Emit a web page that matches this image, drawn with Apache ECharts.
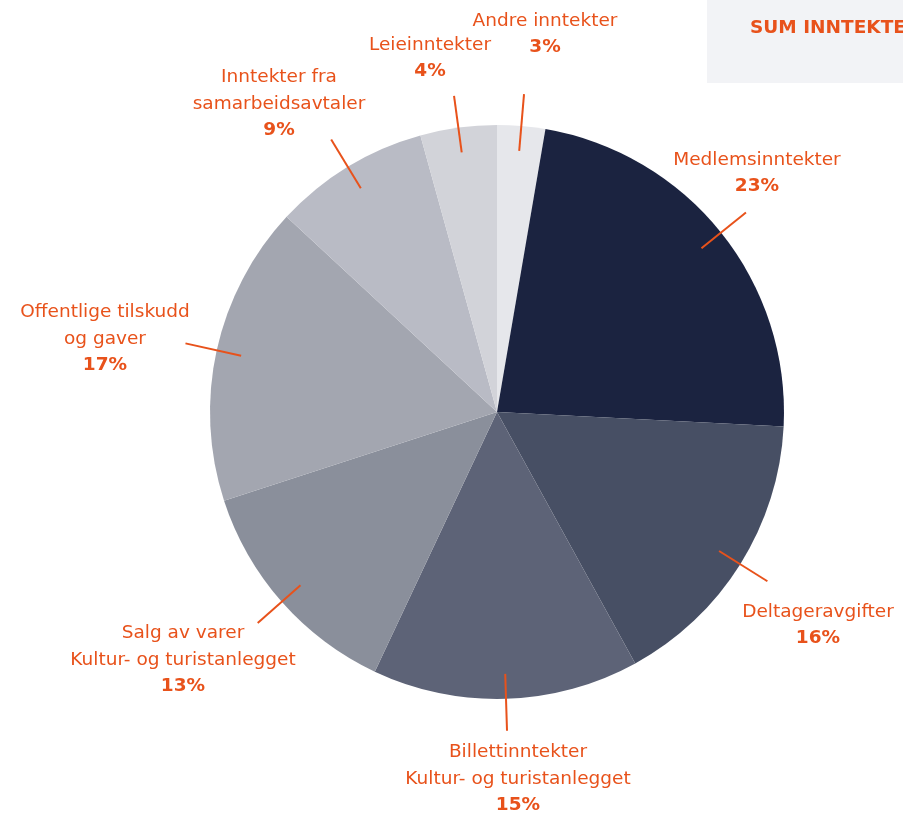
<!DOCTYPE html>
<html><head><meta charset="utf-8">
<script src="https://cdn.jsdelivr.net/npm/echarts@6/dist/echarts.min.js"></script>
<style>html,body{margin:0;padding:0;background:#fff}#c{width:903px;height:814px}</style>
</head><body><div id="c"></div><script>
const categories = ['Andre inntekter','Medlemsinntekter','Deltageravgifter','Billettinntekter\nKultur- og turistanlegget','Salg av varer\nKultur- og turistanlegget','Offentlige tilskudd\nog gaver','Inntekter fra\nsamarbeidsavtaler','Leieinntekter'];
const values = [2.7, 23.1, 16.2, 15.0, 13.0, 16.9, 8.8, 4.3];
const sliceColors = ['#e6e7eb','#1b2340','#474f64','#5d6377','#8a8f9b','#a3a6b0','#b9bbc5','#d2d3d9'];
const titleText = 'SUM INNTEKTER';
// label centre positions (layout only)
const labelPos = [[545,34],[757,173],[818,625],[518,779],[183,660],[105,339],[279,104],[430,58]];

const ORANGE = '#e8521b';
const FONT = '"DejaVu Sans"';
const data = categories.map((c, i) => ({ name: c, value: values[i], itemStyle: { color: sliceColors[i] } }));

const chart = echarts.init(document.getElementById('c'), null, { renderer: 'canvas' });
chart.setOption({
  animation: false,
  graphic: [
    { type: 'rect', shape: { x: 707, y: 0, width: 196, height: 83 }, style: { fill: '#f2f3f6' }, z: 0 },
    { type: 'text', x: 750, y: 28, style: { text: titleText, fill: ORANGE, font: 'bold 18.5px ' + FONT, textVerticalAlign: 'middle' }, z: 1 }
  ],
  series: [
    {
      type: 'pie', center: [497, 412], radius: 287, startAngle: 90, clockwise: true,
      silent: true, avoidLabelOverlap: false, z: 2,
      data: data,
      label: {
        show: true, position: 'outside',
        formatter: p => '{n|' + p.name.split('\n').join('}\n{n|') + '}\n{p|' + Math.round(p.value) + '%}',
        rich: {
          n: { fontFamily: FONT, fontSize: 18.5, color: ORANGE, lineHeight: 26.5, align: 'center' },
          p: { fontFamily: FONT, fontSize: 18.5, fontWeight: 'bold', color: ORANGE, lineHeight: 26.5, align: 'center' }
        }
      },
      labelLine: { show: false },
      labelLayout: p => ({ x: labelPos[p.dataIndex][0], y: labelPos[p.dataIndex][1], align: 'center', verticalAlign: 'middle' }),
      emphasis: { disabled: true }
    },
    {
      type: 'pie', center: [497, 412], radius: 262, startAngle: 90, clockwise: true,
      silent: true, avoidLabelOverlap: false, z: 3,
      data: data.map(d => ({ name: d.name, value: d.value })),
      itemStyle: { color: 'rgba(0,0,0,0)' },
      label: { show: true, position: 'outside', formatter: () => ' ', fontSize: 1, color: 'rgba(0,0,0,0)' },
      labelLine: { show: true, length: 57, length2: 0, smooth: false, lineStyle: { color: ORANGE, width: 2 } },
      emphasis: { disabled: true }
    }
  ]
});
</script></body></html>
